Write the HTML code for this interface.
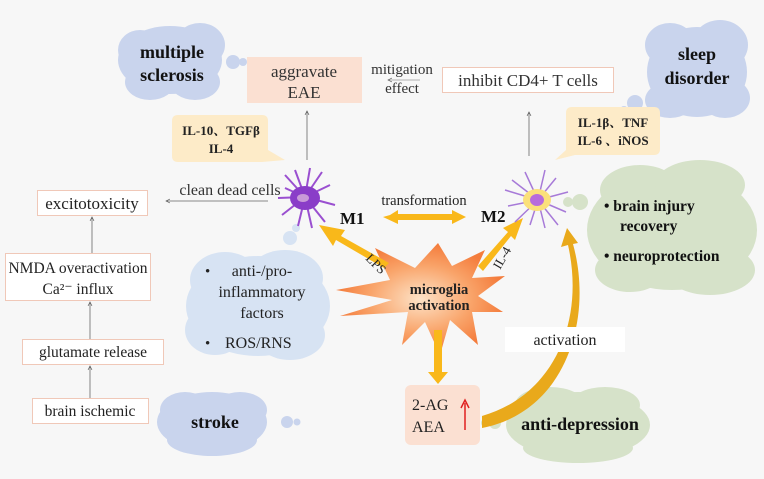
<!DOCTYPE html>
<html><head><meta charset="utf-8"><style>
html,body{margin:0;padding:0;background:#f7f7f7;}
svg{display:block;font-family:"Liberation Serif","Noto Serif CJK SC",serif;}
.b{font-weight:bold}
</style></head><body>
<svg width="764" height="479" viewBox="0 0 764 479" xmlns="http://www.w3.org/2000/svg">
<defs>
<marker id="ah" markerWidth="6" markerHeight="6" refX="5" refY="3" orient="auto"><path d="M0,0.5 L5,3 L0,5.5" fill="none" stroke="#555" stroke-width="0.8"/></marker>
<radialGradient id="sg" cx="50%" cy="50%" r="50%"><stop offset="0" stop-color="#fde3c8"/><stop offset="0.6" stop-color="#f9a46a"/><stop offset="1" stop-color="#f47c3c"/></radialGradient>
</defs>
<rect width="764" height="479" fill="#f7f7f7"/>
<g fill="#c9d4ed">
<ellipse cx="170" cy="60" rx="52" ry="34"/><ellipse cx="140" cy="50" rx="22" ry="20"/><ellipse cx="200" cy="45" rx="25" ry="22"/><ellipse cx="150" cy="82" rx="25" ry="18"/><ellipse cx="195" cy="82" rx="25" ry="18"/>
<circle cx="233" cy="62" r="7"/><circle cx="243" cy="62" r="4"/>
<ellipse cx="697" cy="72" rx="50" ry="45"/><ellipse cx="670" cy="45" rx="25" ry="22"/><ellipse cx="720" cy="45" rx="28" ry="25"/><ellipse cx="670" cy="100" rx="25" ry="18"/><ellipse cx="725" cy="98" rx="25" ry="20"/>
<circle cx="635" cy="103" r="8"/><circle cx="624" cy="110" r="4"/>
<ellipse cx="212" cy="422" rx="55" ry="30"/><ellipse cx="185" cy="410" rx="25" ry="18"/><ellipse cx="240" cy="410" rx="27" ry="18"/><ellipse cx="212" cy="440" rx="45" ry="16"/>
<circle cx="287" cy="422" r="6"/><circle cx="297" cy="422" r="3.5"/>
</g>
<g fill="#d7e3f3">
<ellipse cx="258" cy="306" rx="72" ry="50"/><ellipse cx="225" cy="280" rx="35" ry="28"/><ellipse cx="285" cy="278" rx="38" ry="28"/><ellipse cx="215" cy="330" rx="30" ry="25"/><ellipse cx="290" cy="335" rx="35" ry="25"/>
<circle cx="290" cy="238" r="7"/><circle cx="296" cy="228" r="4"/>
</g>
<g fill="#d6e2c9">
<ellipse cx="672" cy="230" rx="85" ry="60"/><ellipse cx="640" cy="190" rx="40" ry="25"/><ellipse cx="700" cy="185" rx="45" ry="25"/><ellipse cx="630" cy="270" rx="35" ry="22"/><ellipse cx="710" cy="270" rx="45" ry="25"/>
<circle cx="580" cy="202" r="8"/><circle cx="568" cy="202" r="5"/>
<ellipse cx="578" cy="425" rx="72" ry="33"/><ellipse cx="550" cy="405" rx="35" ry="18"/><ellipse cx="605" cy="405" rx="35" ry="18"/><ellipse cx="578" cy="448" rx="55" ry="15"/>
<circle cx="495" cy="423" r="6"/><circle cx="485" cy="423" r="4"/>
</g>
<rect x="247" y="57" width="115" height="46" fill="#fbe0d2"/>
<text x="304" y="77" text-anchor="middle" font-size="17" fill="#333">aggravate</text>
<text x="304" y="98" text-anchor="middle" font-size="17" fill="#333">EAE</text>
<rect x="442.5" y="67.5" width="171" height="25" fill="#fff" stroke="#f0c8b8"/>
<text x="528" y="86" text-anchor="middle" font-size="17" fill="#333">inhibit CD4+ T cells</text>
<text x="402" y="74" text-anchor="middle" font-size="15" fill="#333">mitigation</text>
<text x="402" y="93" text-anchor="middle" font-size="15" fill="#333">effect</text>
<line x1="420" y1="80" x2="388" y2="80" stroke="#999" stroke-width="0.8" marker-end="url(#ah)"/>
<rect x="37.5" y="190.5" width="110" height="25" fill="#fff" stroke="#f0c8b8"/>
<text x="92" y="209" text-anchor="middle" font-size="17" fill="#222">excitotoxicity</text>
<rect x="5.5" y="253.5" width="145" height="47" fill="#fff" stroke="#f0c8b8"/>
<text x="78" y="273" text-anchor="middle" font-size="15.5" fill="#222">NMDA overactivation</text>
<text x="78" y="294" text-anchor="middle" font-size="15.5" fill="#222">Ca²⁻ influx</text>
<rect x="22.5" y="339.5" width="141" height="25" fill="#fff" stroke="#f0c8b8"/>
<text x="93" y="357" text-anchor="middle" font-size="15.5" fill="#222">glutamate release</text>
<rect x="32.5" y="398.5" width="116" height="25" fill="#fff" stroke="#f0c8b8"/>
<text x="90" y="416" text-anchor="middle" font-size="15.5" fill="#222">brain ischemic</text>
<g stroke="#666" stroke-width="0.8" marker-end="url(#ah)">
<line x1="90" y1="398" x2="90" y2="366"/><line x1="90" y1="339" x2="90" y2="302"/><line x1="92" y1="253" x2="92" y2="217"/>
<line x1="268" y1="201" x2="166" y2="201"/><line x1="307" y1="160" x2="307" y2="111"/><line x1="529" y1="156" x2="529" y2="112"/>
</g>
<text x="230" y="195" text-anchor="middle" font-size="16" fill="#333">clean dead cells</text>
<path d="M178,115 H262 Q268,115 268,121 V150 L285,160 L262,162 H178 Q172,162 172,156 V121 Q172,115 178,115Z" fill="#fdebc8"/>
<text x="221" y="135" text-anchor="middle" font-size="13" class="b" fill="#222">IL-10、TGFβ</text>
<text x="221" y="153" text-anchor="middle" font-size="13" class="b" fill="#222">IL-4</text>
<path d="M572,107 H654 Q660,107 660,113 V149 Q660,155 654,155 H575 L555,160 L566,150 V113 Q566,107 572,107Z" fill="#fdebc8"/>
<text x="613" y="127" text-anchor="middle" font-size="13" class="b" fill="#222">IL-1β、TNF</text>
<text x="613" y="145" text-anchor="middle" font-size="13" class="b" fill="#222">IL-6 、iNOS</text>
<text x="172" y="58" text-anchor="middle" font-size="18" class="b" fill="#111">multiple</text>
<text x="172" y="81" text-anchor="middle" font-size="18" class="b" fill="#111">sclerosis</text>
<text x="697" y="60" text-anchor="middle" font-size="18" class="b" fill="#111">sleep</text>
<text x="697" y="84" text-anchor="middle" font-size="18" class="b" fill="#111">disorder</text>
<text x="215" y="428" text-anchor="middle" font-size="18" class="b" fill="#111">stroke</text>
<text x="580" y="430" text-anchor="middle" font-size="18" class="b" fill="#111">anti-depression</text>
<text x="604" y="211" font-size="15.5" class="b" fill="#111">•  brain  injury</text>
<text x="620" y="231" font-size="15.5" class="b" fill="#111">recovery</text>
<text x="604" y="261" font-size="15.5" class="b" fill="#111">•  neuroprotection</text>
<text x="205" y="276" font-size="15" fill="#222">•</text>
<text x="262" y="276" text-anchor="middle" font-size="16" fill="#222">anti-/pro-</text>
<text x="262" y="297" text-anchor="middle" font-size="16" fill="#222">inflammatory</text>
<text x="262" y="318" text-anchor="middle" font-size="16" fill="#222">factors</text>
<text x="205" y="348" font-size="15" fill="#222">•</text>
<text x="225" y="348" font-size="16" fill="#222">ROS/RNS</text>
<polygon points="438,243 452,266 485,250 472,278 505,276 478,296 503,312 472,312 478,345 450,320 440,355 425,322 402,345 408,312 340,316 392,300 336,290 390,280 375,248 415,268" fill="url(#sg)"/>
<text x="439" y="294" text-anchor="middle" font-size="14.5" class="b" fill="#222">microglia</text>
<text x="439" y="310" text-anchor="middle" font-size="14.5" class="b" fill="#222">activation</text>
<g fill="#f9b81a" stroke="none">
<polygon points="384,268 336,240 333,246 319,225 345,230 341,236 389,263"/>
<polygon points="478,266 508,232 503,228 523,218 515,240 511,236 483,271"/>
<polygon points="434,330 442,330 442,372 448,372 438,384 428,372 434,372"/>
<polygon points="390,215 398,210 398,214 452,214 452,210 466,217 452,224 452,220 398,220 398,224 383,217"/>
<path d="M482,416 C555,395 585,320 568,245 L561,247 L567,228 L578,243 L573,244 C594,320 565,412 482,428Z" fill="#e9a91b"/>
</g>
<text x="365" y="259" font-size="13" fill="#222" transform="rotate(45 365 259)">LPS</text>
<text x="500" y="270" font-size="13" fill="#222" transform="rotate(-60 500 270)">IL-4</text>
<text x="424" y="205" text-anchor="middle" font-size="14.5" fill="#222">transformation</text>
<rect x="505" y="327" width="120" height="25" fill="#fff"/>
<text x="565" y="345" text-anchor="middle" font-size="16" fill="#222">activation</text>
<rect x="405" y="385" width="75" height="60" rx="6" fill="#fbe0d2"/>
<text x="412" y="410" font-size="16" fill="#222">2-AG</text>
<text x="412" y="432" font-size="16" fill="#222">AEA</text>
<line x1="465" y1="430" x2="465" y2="403" stroke="#e02020" stroke-width="1.5"/>
<path d="M461,408 L465,400 L469,408" fill="none" stroke="#e02020" stroke-width="1.5"/>
<g stroke="#9a4fd0" stroke-width="2" fill="none">
<path d="M305,197 L285,175 M305,197 L295,170 M305,197 L310,168 M305,197 L322,172 M305,197 L330,185 M305,197 L335,205 M305,197 L325,222 M305,197 L312,228 M305,197 L298,226 M305,197 L282,215 M305,197 L278,198 M305,197 L285,188"/>
</g>
<ellipse cx="305" cy="198" rx="15" ry="12" fill="#8a3dc8"/>
<ellipse cx="303" cy="198" rx="6" ry="4" fill="#c89ad8"/>
<text x="340" y="224" font-size="17" class="b" fill="#111">M1</text>
<g stroke="#a77ad8" stroke-width="1.5" fill="none">
<path d="M538,200 L512,180 M538,200 L525,172 M538,200 L545,170 M538,200 L556,178 M538,200 L568,192 M538,200 L566,212 M538,200 L558,225 M538,200 L545,228 M538,200 L530,225 M538,200 L515,222 M538,200 L508,206 M538,200 L505,190"/>
</g>
<ellipse cx="537" cy="200" rx="14" ry="11" fill="#fbe07a"/>
<ellipse cx="537" cy="200" rx="7" ry="6" fill="#b76bdc"/>
<text x="481" y="222" font-size="17" class="b" fill="#111">M2</text>
</svg>
</body></html>
